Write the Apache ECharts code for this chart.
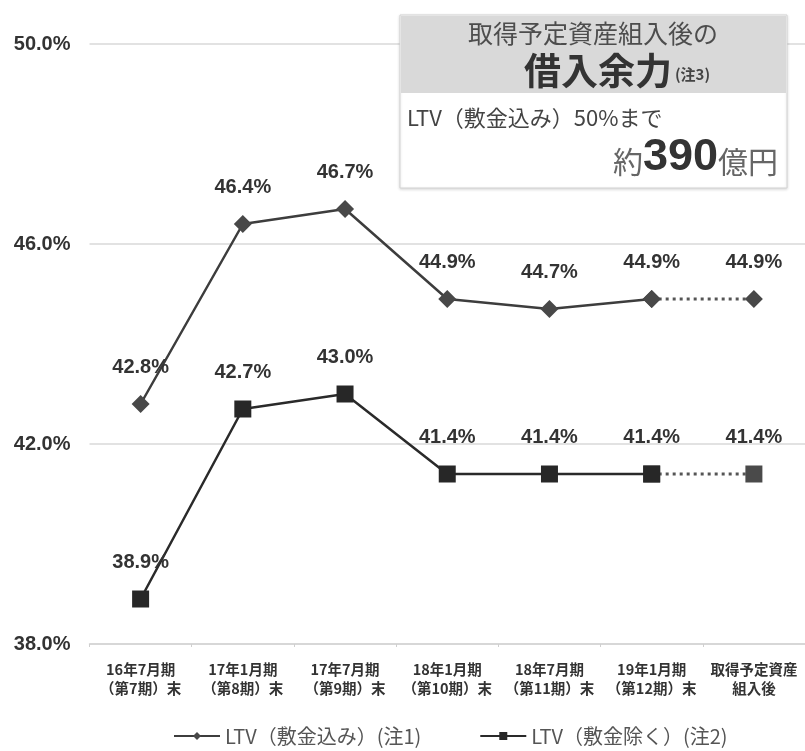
<!DOCTYPE html>
<html>
<head>
<meta charset="utf-8">
<script src="https://cdn.jsdelivr.net/npm/echarts@6/dist/echarts.min.js"></script>
<style>
html,body{margin:0;padding:0;background:#fff;}
#chart{width:805px;height:751px;}
</style>
</head>
<body>
<div id="chart"></div>
<script>
const categories = [
  '16年7月期\n（第7期）末',
  '17年1月期\n（第8期）末',
  '17年7月期\n（第9期）末',
  '18年1月期\n（第10期）末',
  '18年7月期\n（第11期）末',
  '19年1月期\n（第12期）末',
  '取得予定資産\n組入後'
];
const ltvWithDeposit = [42.8, 46.4, 46.7, 44.9, 44.7, 44.9, 44.9];
const ltvExDeposit = [38.9, 42.7, 43.0, 41.4, 41.4, 41.4, 41.4];
const yTicks = {min: 38, max: 50, interval: 4};
const seriesNames = ['LTV（敷金込み）(注1)', 'LTV（敷金除く）(注2)'];

const JP = '"Noto Sans CJK JP", sans-serif';
const NUM = '"Liberation Sans", Arial, sans-serif';
const last = categories.length - 1;

function solidPart(arr){ return arr.map((v,i)=> i < last ? v : '-'); }
function dottedPart(arr){ return arr.map((v,i)=> i >= last-1 ? v : '-'); }

const labelCfg = {
  show: true, position: 'top', distance: 18,
  fontFamily: NUM, fontWeight: 'bold', fontSize: 20, color: '#333',
  formatter: p => (typeof p.value === 'number' ? p.value.toFixed(1) + '%' : '')
};

const chart = echarts.init(document.getElementById('chart'), null, {renderer:'canvas'});
chart.setOption({
  animation: false,
  backgroundColor: '#fff',
  grid: {left: 89.5, width: 721, top: 44, bottom: 107, containLabel: false},
  xAxis: {
    type: 'category', data: categories, boundaryGap: true,
    axisLine: {show: true, lineStyle: {color: '#d4d4d4', width: 1.5}},
    axisTick: {show: true, length: 3, lineStyle: {color: '#cfcfcf'}},
    axisLabel: {fontFamily: JP, fontWeight: 'bold', fontSize: 14.5, color: '#333', lineHeight: 19, margin: 16, interval: 0}
  },
  yAxis: {
    type: 'value', min: yTicks.min, max: yTicks.max, interval: yTicks.interval,
    axisLine: {show: false}, axisTick: {show: false},
    splitLine: {lineStyle: {color: '#d9d9d9', width: 1.5}},
    axisLabel: {fontFamily: NUM, fontWeight: 'bold', fontSize: 20, color: '#333', margin: 19,
      formatter: v => v.toFixed(1) + '%'}
  },
  legend: {
    data: seriesNames, left: 168, bottom: 0, itemGap: 58, itemWidth: 46, itemHeight: 10,
    textStyle: {fontFamily: JP, fontSize: 20, color: '#555'}
  },
  series: [
    {
      name: seriesNames[0], type: 'line', data: solidPart(ltvWithDeposit),
      symbol: 'diamond', symbolSize: 18, z: 3,
      lineStyle: {color: '#3d3d3d', width: 2.5},
      itemStyle: {color: '#484848'},
      label: labelCfg
    },
    {
      name: 'd1', type: 'line', data: dottedPart(ltvWithDeposit),
      symbol: 'diamond', symbolSize: 18, z: 2,
      lineStyle: {color: '#555', width: 3, type: [3, 4]},
      itemStyle: {color: '#484848'},
      label: Object.assign({}, labelCfg, {formatter: p => p.dataIndex === last ? p.value.toFixed(1) + '%' : ''})
    },
    {
      name: seriesNames[1], type: 'line', data: solidPart(ltvExDeposit),
      symbol: 'rect', symbolSize: 17, z: 3,
      lineStyle: {color: '#2a2a2a', width: 2.5},
      itemStyle: {color: '#272727'},
      label: labelCfg
    },
    {
      name: 'd2', type: 'line', data: dottedPart(ltvExDeposit),
      symbol: 'rect', symbolSize: 17, z: 2,
      lineStyle: {color: '#555', width: 3, type: [3, 4]},
      itemStyle: {color: '#4a4a4a'},
      label: Object.assign({}, labelCfg, {formatter: p => p.dataIndex === last ? p.value.toFixed(1) + '%' : ''})
    }
  ],
  graphic: [
    {type: 'rect', shape: {x: 400, y: 15, width: 387, height: 173}, z: 10,
      style: {fill: '#fff', stroke: '#d3d3d3', lineWidth: 1, shadowBlur: 3, shadowColor: 'rgba(0,0,0,0.15)', shadowOffsetY: 1}},
    {type: 'rect', shape: {x: 401, y: 16, width: 385, height: 77}, z: 11,
      style: {fill: '#d9d9d9'}},
    {type: 'text', x: 593, y: 33, z: 12,
      style: {text: '取得予定資産組入後の', fontFamily: JP, fontSize: 25, fill: '#4d4d4d', align: 'center', verticalAlign: 'middle'}},
    {type: 'text', x: 617, y: 71, z: 12,
      style: {text: '{a|借入余力}{b|(注3)}', align: 'center', verticalAlign: 'middle',
        rich: {a: {fontFamily: JP, fontSize: 37, fontWeight: 'bold', fill: '#333', color: '#333'},
               b: {fontFamily: JP, fontSize: 15, fontWeight: 'bold', fill: '#444', color: '#444', padding: [6, 0, 0, 3]}}}},
    {type: 'text', x: 407, y: 118, z: 12,
      style: {text: 'LTV（敷金込み）50%まで', fontFamily: JP, fontSize: 22, fill: '#444', align: 'left', verticalAlign: 'middle'}},
    {type: 'text', x: 778, y: 158, z: 12,
      style: {text: '{a|約}{b|390}{a|億円}', align: 'right', verticalAlign: 'middle',
        rich: {a: {fontFamily: JP, fontSize: 30, fill: '#666', color: '#666', padding: [8, 0, 0, 0]},
               b: {fontFamily: NUM, fontSize: 45, fontWeight: 'bold', fill: '#333', color: '#333'}}}}
  ]
});
</script>
</body>
</html>
